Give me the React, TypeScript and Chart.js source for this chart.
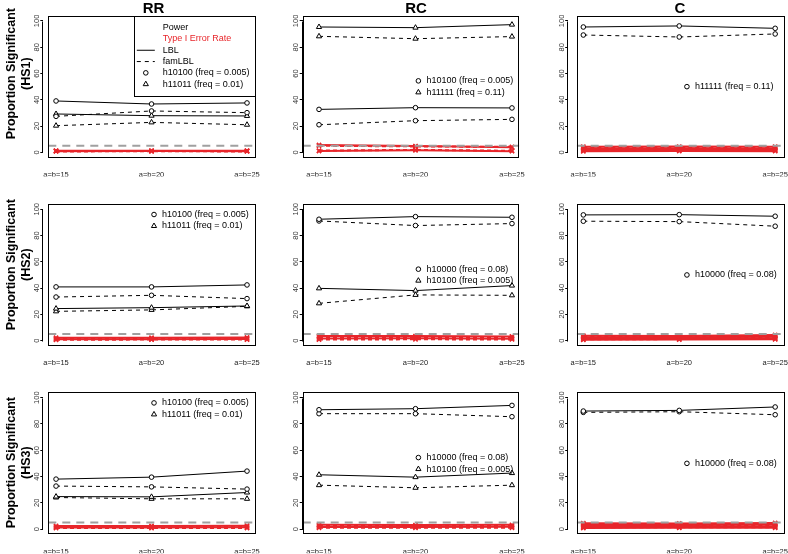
import React, { useEffect, useRef } from 'react';
import { Chart, registerables } from 'chart.js';

Chart.register(...registerables);

const FONT = "'Liberation Sans', Arial, Helvetica, sans-serif";
const RED = 'rgb(232,38,43)';
const GREY = 'rgb(160,160,160)';

// ---------- data ----------
const categories = ['a=b=15', 'a=b=20', 'a=b=25'];
const columnTitles = ['RR', 'RC', 'C'];
const rowTags = ['(HS1)', '(HS2)', '(HS3)'];
const yTicks = [0, 20, 40, 60, 80, 100];
const alphaLevel = 5;

const legendHeader = ['Power', 'Type I Error Rate', 'LBL', 'famLBL'];
const legendRR = ['h10100 (freq = 0.005)', 'h11011 (freq = 0.01)'];
const legendRC1 = ['h10100 (freq = 0.005)', 'h11111 (freq = 0.11)'];
const legendRC23 = ['h10000 (freq = 0.08)', 'h10100 (freq = 0.005)'];
const legendC1 = ['h11111 (freq = 0.11)'];
const legendC23 = ['h10000 (freq = 0.08)'];

// RR / HS1
const rrHS1_circ_LBL = [39.1, 36.8, 37.6];
const rrHS1_circ_fam = [27.4, 31.5, 30.2];
const rrHS1_tri_LBL = [29.2, 27.9, 27.7];
const rrHS1_tri_fam = [20.3, 22.8, 21.0];
const rrHS1_err_LBL = [[1.3, 1.3, 1.3], [0.9, 1.0, 0.9]];
const rrHS1_err_fam = [[1.1, 1.1, 1.1], [0.7, 0.8, 0.7]];
// RC / HS1
const rcHS1_circ_LBL = [32.7, 34.0, 33.8];
const rcHS1_circ_fam = [21.0, 24.1, 25.1];
const rcHS1_tri_LBL = [95.4, 94.9, 97.2];
const rcHS1_tri_fam = [88.3, 86.5, 88.1];
const rcHS1_err_LBL = [[5.6, 4.8, 3.8], [1.0, 1.6, 0.9]];
const rcHS1_err_fam = [[5.0, 4.5, 4.2], [1.3, 1.9, 1.2]];
// C / HS1
const cHS1_circ_LBL = [95.4, 96.2, 94.4];
const cHS1_circ_fam = [89.3, 87.8, 90.1];
const cHS1_err_LBL = [[4.3, 4.4, 4.3], [3.0, 3.1, 3.0], [1.8, 1.9, 1.8], [0.8, 1.0, 0.9]];
const cHS1_err_fam = [[3.6, 3.7, 3.6], [2.4, 2.5, 2.4], [1.3, 1.4, 1.3]];
// RR / HS2
const rrHS2_circ_LBL = [40.9, 40.9, 42.4];
const rrHS2_circ_fam = [33.2, 34.5, 32.0];
const rrHS2_tri_LBL = [24.4, 25.1, 26.4];
const rrHS2_tri_fam = [22.3, 23.4, 26.1];
const rrHS2_err_LBL = [[2.2, 2.2, 2.4], [1.0, 1.0, 1.2]];
const rrHS2_err_fam = [[1.6, 1.6, 1.8], [0.7, 0.8, 0.8]];
// RC / HS2
const rcHS2_circ_LBL = [92.4, 94.4, 93.9];
const rcHS2_circ_fam = [91.1, 87.6, 89.1];
const rcHS2_tri_LBL = [39.8, 38.1, 41.9];
const rcHS2_tri_fam = [28.4, 34.8, 34.5];
const rcHS2_err_LBL = [[3.5, 3.5, 3.2], [1.6, 1.8, 1.5]];
const rcHS2_err_fam = [[2.5, 2.7, 2.3], [0.8, 1.0, 0.9]];
// C / HS2
const cHS2_circ_LBL = [95.7, 95.9, 94.7];
const cHS2_circ_fam = [90.9, 90.6, 87.1];
const cHS2_err_LBL = [[3.8, 3.6, 4.3], [2.6, 2.6, 3.0], [1.5, 1.7, 1.9], [0.6, 0.8, 1.0]];
const cHS2_err_fam = [[3.2, 3.1, 3.6], [2.0, 2.2, 2.5], [1.0, 1.2, 1.4]];
// RR / HS3
const rrHS3_circ_LBL = [38.0, 39.5, 44.1];
const rrHS3_circ_fam = [32.7, 32.1, 30.4];
const rrHS3_tri_LBL = [24.7, 24.5, 27.8];
const rrHS3_tri_fam = [24.0, 23.0, 23.0];
const rrHS3_err_LBL = [[2.4, 2.4, 2.6], [1.2, 1.2, 1.3]];
const rrHS3_err_fam = [[1.8, 1.8, 2.0], [0.7, 0.7, 0.8]];
// RC / HS3
const rcHS3_circ_LBL = [90.8, 91.6, 94.1];
const rcHS3_circ_fam = [87.8, 87.8, 85.5];
const rcHS3_tri_LBL = [41.3, 39.5, 42.6];
const rcHS3_tri_fam = [33.4, 31.4, 33.4];
const rcHS3_err_LBL = [[3.2, 3.0, 3.2], [1.6, 1.6, 1.7]];
const rcHS3_err_fam = [[2.4, 2.3, 2.4], [0.9, 0.9, 1.0]];
// C / HS3
const cHS3_circ_LBL = [89.8, 90.3, 92.9];
const cHS3_circ_fam = [88.8, 89.3, 87.0];
const cHS3_err_LBL = [[4.4, 4.2, 4.6], [3.1, 3.0, 3.3], [1.9, 1.9, 2.0], [0.8, 0.9, 1.0]];
const cHS3_err_fam = [[3.7, 3.6, 3.9], [2.5, 2.5, 2.6], [1.3, 1.3, 1.4]];

// ---------- layout ----------
const PAGE_W = 788;
const PAGE_H = 554;
const Y_MIN = -4;
const Y_MAX = 104;
const colBox = [
  { left: 48.3, right: 256, gap: 5, xMin: 0.919, xMax: 3.094, titleX: 153.5 },
  { left: 302.7, right: 519.3, gap: 0, xMin: 0.831, xMax: 3.076, titleX: 416 },
  { left: 576.7, right: 786, gap: 8.5, xMin: 0.931, xMax: 3.107, titleX: 680 },
];
const rowTop = [15.7, 204, 392.4];
const BOX_H = 141.9;
const Y_AXIS_W = 30;
const X_AXIS_H = 19;
const X_LABEL_OFFSET = 13;
const TITLE_Y = 7.5;
const rowLabelCenter = [74, 265, 462.6];
const legendPos = [
  { symbolX: 2.026, firstY: 96 },
  { symbolX: 2.03, firstY: 54.4 },
  { symbolX: 2.08, firstY: 50 },
];

type Marker = 'circle' | 'triangle';
type Series = { values: number[]; dashed: boolean; marker: Marker };
type PanelSpec = {
  row: number;
  col: number;
  power: Series[];
  errLBL: number[][];
  errFam: number[][];
  legendLabels: string[];
};

const mk = (values: number[], dashed: boolean, marker: Marker): Series => ({ values, dashed, marker });

const panels: PanelSpec[] = [
  { row: 0, col: 0, legendLabels: legendRR, errLBL: rrHS1_err_LBL, errFam: rrHS1_err_fam,
    power: [mk(rrHS1_circ_LBL, false, 'circle'), mk(rrHS1_circ_fam, true, 'circle'), mk(rrHS1_tri_LBL, false, 'triangle'), mk(rrHS1_tri_fam, true, 'triangle')] },
  { row: 0, col: 1, legendLabels: legendRC1, errLBL: rcHS1_err_LBL, errFam: rcHS1_err_fam,
    power: [mk(rcHS1_circ_LBL, false, 'circle'), mk(rcHS1_circ_fam, true, 'circle'), mk(rcHS1_tri_LBL, false, 'triangle'), mk(rcHS1_tri_fam, true, 'triangle')] },
  { row: 0, col: 2, legendLabels: legendC1, errLBL: cHS1_err_LBL, errFam: cHS1_err_fam,
    power: [mk(cHS1_circ_LBL, false, 'circle'), mk(cHS1_circ_fam, true, 'circle')] },
  { row: 1, col: 0, legendLabels: legendRR, errLBL: rrHS2_err_LBL, errFam: rrHS2_err_fam,
    power: [mk(rrHS2_circ_LBL, false, 'circle'), mk(rrHS2_circ_fam, true, 'circle'), mk(rrHS2_tri_LBL, false, 'triangle'), mk(rrHS2_tri_fam, true, 'triangle')] },
  { row: 1, col: 1, legendLabels: legendRC23, errLBL: rcHS2_err_LBL, errFam: rcHS2_err_fam,
    power: [mk(rcHS2_circ_LBL, false, 'circle'), mk(rcHS2_circ_fam, true, 'circle'), mk(rcHS2_tri_LBL, false, 'triangle'), mk(rcHS2_tri_fam, true, 'triangle')] },
  { row: 1, col: 2, legendLabels: legendC23, errLBL: cHS2_err_LBL, errFam: cHS2_err_fam,
    power: [mk(cHS2_circ_LBL, false, 'circle'), mk(cHS2_circ_fam, true, 'circle')] },
  { row: 2, col: 0, legendLabels: legendRR, errLBL: rrHS3_err_LBL, errFam: rrHS3_err_fam,
    power: [mk(rrHS3_circ_LBL, false, 'circle'), mk(rrHS3_circ_fam, true, 'circle'), mk(rrHS3_tri_LBL, false, 'triangle'), mk(rrHS3_tri_fam, true, 'triangle')] },
  { row: 2, col: 1, legendLabels: legendRC23, errLBL: rcHS3_err_LBL, errFam: rcHS3_err_fam,
    power: [mk(rcHS3_circ_LBL, false, 'circle'), mk(rcHS3_circ_fam, true, 'circle'), mk(rcHS3_tri_LBL, false, 'triangle'), mk(rcHS3_tri_fam, true, 'triangle')] },
  { row: 2, col: 2, legendLabels: legendC23, errLBL: cHS3_err_LBL, errFam: cHS3_err_fam,
    power: [mk(cHS3_circ_LBL, false, 'circle'), mk(cHS3_circ_fam, true, 'circle')] },
];

// ---------- plugins ----------
function drawSymbol(ctx: CanvasRenderingContext2D, sym: string | undefined, x: number, y: number) {
  if (!sym) return;
  ctx.strokeStyle = '#000';
  ctx.lineWidth = 1;
  if (sym === 'line' || sym === 'dash') {
    ctx.setLineDash(sym === 'dash' ? [4, 4] : []);
    ctx.beginPath();
    ctx.moveTo(x - 9, y);
    ctx.lineTo(x + 9, y);
    ctx.stroke();
    ctx.setLineDash([]);
  } else if (sym === 'circle') {
    ctx.beginPath();
    ctx.arc(x, y, 2.3, 0, Math.PI * 2);
    ctx.stroke();
  } else if (sym === 'triangle') {
    const r = 3;
    ctx.beginPath();
    ctx.moveTo(x, y - r);
    ctx.lineTo(x + 0.866 * r, y + 0.5 * r);
    ctx.lineTo(x - 0.866 * r, y + 0.5 * r);
    ctx.closePath();
    ctx.stroke();
  }
}

const rLegendPlugin = {
  id: 'rLegend',
  afterDraw(chart: any, _args: any, opts: any) {
    if (!opts || !opts.items) return;
    const { ctx, chartArea, scales } = chart;
    const sx = scales.x.getPixelForValue(opts.symbolX);
    const y0 = scales.y.getPixelForValue(opts.firstY);
    ctx.save();
    if (opts.boxed) {
      const bx = Math.round(scales.x.getPixelForValue(opts.boxX)) + 0.5;
      const top = Math.round(chartArea.top) + 0.5;
      ctx.fillStyle = '#fff';
      ctx.fillRect(bx, top, chartArea.right - bx, opts.boxHeight);
      ctx.strokeStyle = '#000';
      ctx.lineWidth = 1;
      ctx.strokeRect(bx, top, Math.round(chartArea.right) - bx - 0.5, opts.boxHeight);
    }
    ctx.font = `9px ${FONT}`;
    ctx.textBaseline = 'middle';
    ctx.textAlign = 'left';
    opts.items.forEach((it: any, i: number) => {
      const y = y0 + i * opts.spacing;
      drawSymbol(ctx, it.symbol, sx, y);
      ctx.fillStyle = it.color || '#000';
      ctx.fillText(it.label, sx + opts.textGap, y);
    });
    ctx.restore();
  },
};

const rFramePlugin = {
  id: 'rFrame',
  afterDraw(chart: any) {
    const { ctx, chartArea: a, scales } = chart;
    ctx.save();
    ctx.strokeStyle = '#000';
    ctx.lineWidth = 1;
    const l = Math.round(a.left) + 0.5;
    const t = Math.round(a.top) + 0.5;
    const r = Math.round(a.right) - 0.5;
    const b = Math.round(a.bottom) - 0.5;
    ctx.strokeRect(l, t, r - l, b - t);
    const ys = scales.y;
    const ax = Math.round(ys.right) - 0.5;
    ctx.beginPath();
    ctx.moveTo(ax, Math.round(ys.getPixelForValue(yTicks[0])) + 0.5);
    ctx.lineTo(ax, Math.round(ys.getPixelForValue(yTicks[yTicks.length - 1])) + 0.5);
    ctx.stroke();
    ctx.restore();
  },
};

// ---------- config ----------
function toPoints(values: number[]) {
  return values.map((v, i) => ({ x: i + 1, y: v }));
}

function redDataset(values: number[], dashed: boolean) {
  return {
    data: toPoints(values),
    borderColor: RED,
    borderWidth: 2,
    borderDash: dashed ? [4, 3] : [],
    pointStyle: 'crossRot',
    pointRadius: 3,
    pointBorderColor: RED,
    pointBorderWidth: 1.5,
    pointHoverRadius: 0,
    fill: false,
    tension: 0,
  };
}

function buildConfig(spec: PanelSpec): any {
  const cb = colBox[spec.col];
  const top = rowTop[spec.row];
  const bottom = top + BOX_H;
  const datasets: any[] = [];
  spec.power.forEach((s) =>
    datasets.push({
      data: toPoints(s.values),
      borderColor: '#000',
      borderWidth: 1,
      borderDash: s.dashed ? [4, 4] : [],
      pointStyle: s.marker,
      pointRadius: s.marker === 'triangle' ? 3 : 2.3,
      pointBorderColor: '#000',
      pointBackgroundColor: '#fff',
      pointBorderWidth: 1,
      pointHoverRadius: 0,
      fill: false,
      tension: 0,
    })
  );
  datasets.push({
    data: [
      { x: cb.xMin, y: alphaLevel },
      { x: cb.xMax, y: alphaLevel },
    ],
    borderColor: GREY,
    borderWidth: 2,
    borderDash: [8, 6],
    pointRadius: 0,
    pointHoverRadius: 0,
    fill: false,
  });
  spec.errLBL.forEach((v) => datasets.push(redDataset(v, false)));
  spec.errFam.forEach((v) => datasets.push(redDataset(v, true)));

  const lp = legendPos[spec.col];
  let legend: any;
  if (spec.row === 0 && spec.col === 0) {
    legend = {
      boxed: true,
      boxX: 1.82,
      boxHeight: 80,
      symbolX: 1.94,
      firstY: 94.9,
      spacing: 11.3,
      textGap: 17,
      items: [
        { label: legendHeader[0] },
        { label: legendHeader[1], color: RED },
        { label: legendHeader[2], symbol: 'line' },
        { label: legendHeader[3], symbol: 'dash' },
        { label: spec.legendLabels[0], symbol: 'circle' },
        { label: spec.legendLabels[1], symbol: 'triangle' },
      ],
    };
  } else {
    legend = {
      boxed: false,
      symbolX: lp.symbolX,
      firstY: lp.firstY,
      spacing: 11.5,
      textGap: 8,
      items: spec.legendLabels.map((l, i) => ({ label: l, symbol: i === 0 ? 'circle' : 'triangle' })),
    };
  }

  return {
    type: 'line',
    data: { datasets },
    plugins: [rFramePlugin, rLegendPlugin],
    options: {
      animation: false,
      responsive: false,
      events: [],
      layout: {
        autoPadding: false,
        padding: {
          left: cb.left - Y_AXIS_W - cb.gap,
          right: PAGE_W - cb.right,
          top: top,
          bottom: PAGE_H - bottom - X_AXIS_H,
        },
      },
      plugins: {
        legend: { display: false },
        tooltip: { enabled: false },
        title: { display: false },
        rLegend: legend,
      },
      scales: {
        x: {
          type: 'linear',
          position: 'bottom',
          min: cb.xMin,
          max: cb.xMax,
          // tick marks are hidden; their length only offsets the labels below the box
          grid: { display: false, drawTicks: true, tickLength: X_LABEL_OFFSET },
          border: { display: false },
          afterBuildTicks: (s: any) => {
            s.ticks = categories.map((_, i) => ({ value: i + 1 }));
          },
          ticks: {
            autoSkip: false,
            maxRotation: 0,
            minRotation: 0,
            padding: 0,
            color: '#222',
            font: { family: FONT, size: 7.5 },
            callback: (v: any) => categories[Math.round(Number(v)) - 1] ?? '',
          },
          afterFit: (s: any) => {
            s.height = X_AXIS_H;
          },
        },
        y: {
          type: 'linear',
          position: 'left',
          weight: 1,
          min: Y_MIN,
          max: Y_MAX,
          afterBuildTicks: (s: any) => {
            s.ticks = yTicks.map((v) => ({ value: v }));
          },
          grid: { display: true, drawOnChartArea: false, drawTicks: true, tickLength: 3, color: '#000', lineWidth: 1 },
          border: { display: false },
          ticks: {
            minRotation: 90,
            maxRotation: 90,
            crossAlign: 'center',
            padding: -2.8,
            color: '#333',
            font: { family: FONT, size: 7.5 },
            callback: (v: any) => String(v),
          },
          afterFit: (s: any) => {
            s.width = Y_AXIS_W;
          },
        },
        ySpacer: {
          type: 'linear',
          position: 'left',
          weight: 0,
          display: true,
          min: Y_MIN,
          max: Y_MAX,
          grid: { display: false, drawTicks: false },
          border: { display: false },
          ticks: { display: false },
          afterFit: (s: any) => {
            s.width = cb.gap;
          },
        },
      },
    },
  };
}

function Panel({ spec }: { spec: PanelSpec }) {
  const ref = useRef<HTMLCanvasElement | null>(null);
  useEffect(() => {
    if (!ref.current) return;
    const chart = new Chart(ref.current, buildConfig(spec));
    return () => chart.destroy();
  }, [spec]);
  return (
    <canvas
      ref={ref}
      width={PAGE_W}
      height={PAGE_H}
      style={{ position: 'absolute', left: 0, top: 0, width: PAGE_W, height: PAGE_H }}
    />
  );
}

export default function App() {
  return (
    <div style={{ position: 'absolute', left: 0, top: 0, width: PAGE_W, height: PAGE_H, background: '#fff', overflow: 'hidden' }}>
      {panels.map((p, i) => (
        <Panel key={i} spec={p} />
      ))}
      {columnTitles.map((t, i) => (
        <div
          key={t}
          style={{
            position: 'absolute',
            left: colBox[i].titleX - 50,
            top: TITLE_Y - 9,
            width: 100,
            height: 18,
            lineHeight: '18px',
            textAlign: 'center',
            font: `bold 15px ${FONT}`,
            color: '#000',
          }}
        >
          {t}
        </div>
      ))}
      {rowTags.map((tag, i) => (
        <div
          key={tag}
          style={{
            position: 'absolute',
            left: 19.35 - 100,
            top: rowLabelCenter[i] - 14.7,
            width: 200,
            height: 29.4,
            transform: 'rotate(-90deg)',
            textAlign: 'center',
            font: `bold 12.5px ${FONT}`,
            lineHeight: '14.7px',
            color: '#000',
            whiteSpace: 'nowrap',
          }}
        >
          Proportion Significant
          <br />
          {tag}
        </div>
      ))}
    </div>
  );
}
